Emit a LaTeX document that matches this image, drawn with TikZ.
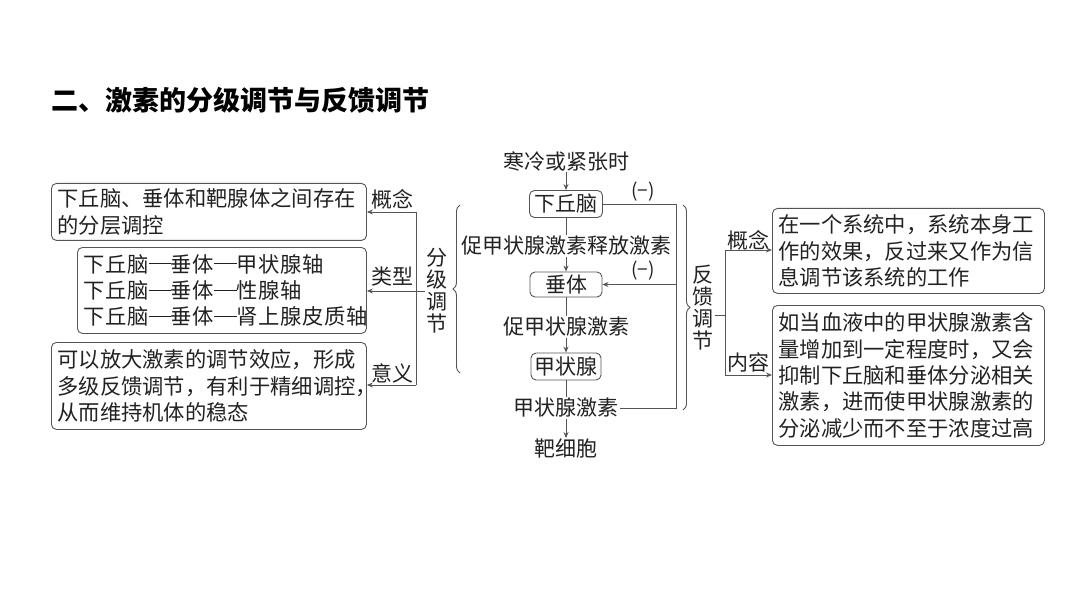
\documentclass[tikz,border=0pt]{standalone}
\usepackage{fontspec}
\setmainfont{Noto Sans CJK SC}
\usetikzlibrary{arrows.meta,decorations.pathreplacing}
\definecolor{ink}{HTML}{222222}
\definecolor{ln}{HTML}{555555}
\newcommand\lndash{\rule[0.37em]{1.05em}{0.045em}}
\tikzset{
  txt/.style={text=ink,inner sep=1pt,font=\fontsize{21}{26}\selectfont},
  box/.style={draw=ln,line width=0.9pt,rounded corners=5pt,text=ink,align=left,inner xsep=6pt,inner ysep=0pt,anchor=north west,font=\fontsize{21.3}{26.3}\selectfont},
  cbox/.style={draw=ln,line width=0.9pt,rounded corners=5pt,text=ink,inner sep=0pt,font=\fontsize{21}{26}\selectfont},
  ln/.style={draw=ln,line width=0.9pt},
  arr/.style={ln,-{Stealth[length=6pt,width=5pt]}},
  brc/.style={ln,decorate,decoration={brace,amplitude=7pt}},
  vtxt/.style={text=ink,inner sep=1pt,align=center,font=\fontsize{21}{22}\selectfont},
}
\begin{document}
\begin{tikzpicture}[x=1pt,y=-1pt]
\fill[white] (0,0) rectangle (1080,607);
\useasboundingbox (0,0) rectangle (1080,607);
% title
\node[anchor=west,inner sep=0pt,text=black,font=\fontsize{27}{30}\bfseries\selectfont] (title) at (51,100) {二、激素的分级调节与反馈调节};
% left boxes
\node[box,text width=303pt,minimum height=57pt] (b1) at (51,183) {下丘脑、垂体和靶腺体之间存在\\的分层调控};
\node[box,text width=277pt,minimum height=86pt,font=\fontsize{21.3}{26.3}\addfontfeature{LetterSpace=3}\selectfont] (b2) at (77,247) {\mbox{下丘脑\lndash 垂体\lndash 甲状腺轴}\\\mbox{下丘脑\lndash 垂体\lndash 性腺轴}\\\mbox{下丘脑\lndash 垂体\lndash 肾上腺皮质轴}};
\node[box,text width=303pt,minimum height=87pt] (b3) at (51,342) {可以放大激素的调节效应，形成\\多级反馈调节，有利于精细调控，\\从而维持机体的稳态};
% left labels
\node[txt] (l1) at (392,199) {概念};
\node[txt] (l2) at (392,277) {类型};
\node[txt] (l3) at (392,373) {意义};
\node[vtxt] (fj) at (437,291) {分\\级\\调\\节};
\coordinate (lv1) at (416,212);
\coordinate (lv3) at (416,385);
\draw[ln] (lv1) -- (lv3);
\draw[arr] (lv1) -- (lv1 -| b1.east);
\draw[arr] (lv3) -- (lv3 -| b3.east);
\draw[arr] (fj.west) -- (fj.west -| b2.east);
\draw[brc] (460,373) -- (460,205);
% center column
\node[txt] (cold) at (566,161) {寒冷或紧张时};
\node[cbox,minimum width=73pt,minimum height=27pt] (hyp) at (566,204) {下丘脑};
\node[txt] (trh) at (566,246) {促甲状腺激素释放激素};
\node[cbox,minimum width=72pt,minimum height=25pt] (pit) at (566,284.5) {垂体};
\node[txt] (tsh) at (566,327) {促甲状腺激素};
\node[cbox,minimum width=70pt,minimum height=27pt] (thy) at (566,366.5) {甲状腺};
\node[txt] (th) at (566,408) {甲状腺激素};
\node[txt] (tgt) at (566,449) {靶细胞};
\draw[arr] (cold.south) -- (hyp.north);
\draw[ln] (hyp.south) -- (trh.north);
\draw[arr] (trh.south) -- (pit.north);
\draw[ln] (pit.south) -- (tsh.north);
\draw[arr] (tsh.south) -- (thy.north);
\draw[ln] (thy.south) -- (th.north);
\draw[arr] (th.south) -- (tgt.north);
% feedback loop
\coordinate (fbx) at (676,0);
\draw[ln] (hyp.east) -- (hyp.east -| fbx) -- (th.east -| fbx) -- (th.east);
\draw[arr] (pit.east -| fbx) -- (pit.east);
\node[txt,font=\fontsize{19}{22}\selectfont] (m1) at (643,192) {(−)};
\node[txt,font=\fontsize{19}{22}\selectfont] (m2) at (643,271) {(−)};
\draw[brc] (683,205) -- (683,410);
% right side
\node[vtxt] (fk) at (703,308) {反\\馈\\调\\节};
\coordinate (rv) at (725,315);
\coordinate (rv1) at (725,250);
\coordinate (rv2) at (725,375);
\draw[ln] (fk.east |- rv) -- (rv);
\draw[ln] (rv1) -- (rv2);
\node[box,text width=260pt,minimum height=85pt] (r1) at (772,208) {在一个系统中，系统本身工\\作的效果，反过来又作为信\\息调节该系统的工作};
\node[box,text width=260pt,minimum height=140pt] (r2) at (772,305) {如当血液中的甲状腺激素含\\量增加到一定程度时，又会\\抑制下丘脑和垂体分泌相关\\激素，进而使甲状腺激素的\\分泌减少而不至于浓度过高};
\draw[arr] (rv1) -- (rv1 -| r1.west);
\draw[arr] (rv2) -- (rv2 -| r2.west);
\node[txt] (k1) at (748,240) {概念};
\node[txt] (k2) at (748,362) {内容};
\end{tikzpicture}
\end{document}
